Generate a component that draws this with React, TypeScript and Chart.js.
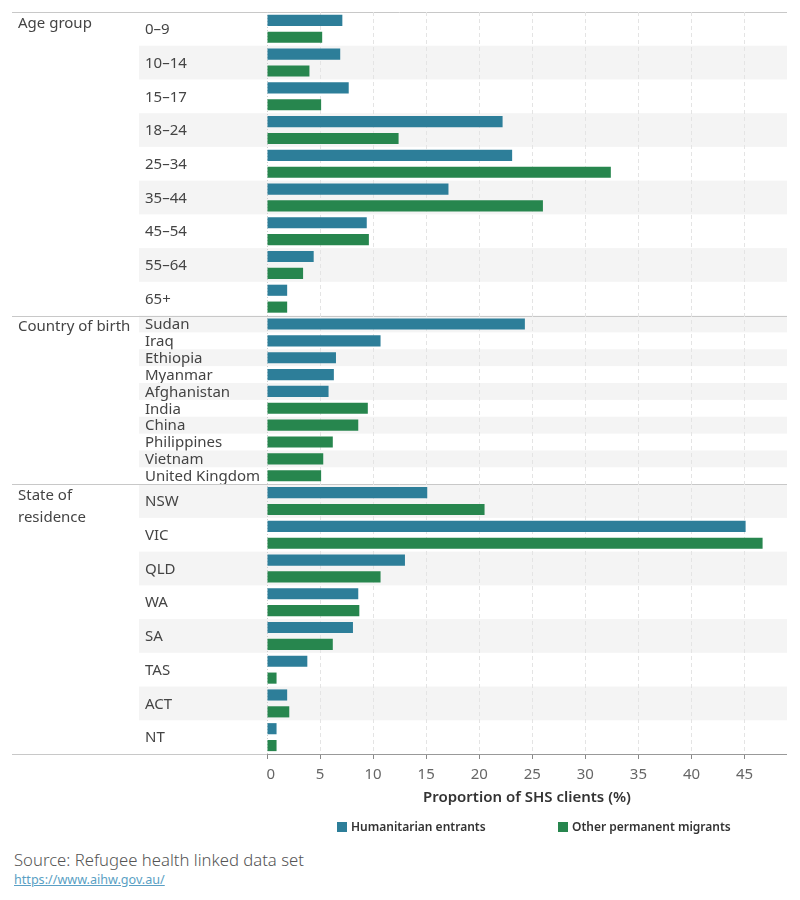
import React, { useEffect, useRef } from "react";
import { Chart, registerables } from "chart.js";

Chart.register(...registerables);

// ---- Data: proportion of SHS clients (%) ----
const ageGroups = ["0–9", "10–14", "15–17", "18–24", "25–34", "35–44", "45–54", "55–64", "65+"];
const ageHumanitarian = [7.1, 6.9, 7.7, 22.2, 23.1, 17.1, 9.4, 4.4, 1.9];
const ageOther = [5.2, 4.0, 5.1, 12.4, 32.4, 26.0, 9.6, 3.4, 1.9];

const countriesHumanitarian = ["Sudan", "Iraq", "Ethiopia", "Myanmar", "Afghanistan"];
const countryHumanitarianValues = [24.3, 10.7, 6.5, 6.3, 5.8];
const countriesOther = ["India", "China", "Philippines", "Vietnam", "United Kingdom"];
const countryOtherValues = [9.5, 8.6, 6.2, 5.3, 5.1];

const states = ["NSW", "VIC", "QLD", "WA", "SA", "TAS", "ACT", "NT"];
const stateHumanitarian = [15.1, 45.1, 13.0, 8.6, 8.1, 3.8, 1.9, 0.9];
const stateOther = [20.5, 46.7, 10.7, 8.7, 6.2, 0.9, 2.1, 0.9];

const sectionTitles = [["Age group"], ["Country of birth"], ["State of", "residence"]];
const xTicks = [0, 5, 10, 15, 20, 25, 30, 35, 40, 45];
const xMax = 49;

const seriesNames = ["Humanitarian entrants", "Other permanent migrants"];
const BLUE = "#2d7e99";
const GREEN = "#27864e";
const FONT = "'Noto Sans', sans-serif";

// ---- Build slots: each two-bar row takes two category slots, each single-bar row one ----
type Row = { label: string; slots: number[]; section: number };
const slotKeys: string[] = [];
const humanitarianData: (number | null)[] = [];
const otherData: (number | null)[] = [];
const rows: Row[] = [];

function addSlot(key: string, h: number | null, o: number | null) {
  slotKeys.push(key);
  humanitarianData.push(h);
  otherData.push(o);
  return slotKeys.length - 1;
}

ageGroups.forEach((g, i) => {
  const a = addSlot("age:" + g + ":h", ageHumanitarian[i], null);
  const b = addSlot("age:" + g + ":o", null, ageOther[i]);
  rows.push({ label: g, slots: [a, b], section: 0 });
});
countriesHumanitarian.forEach((c, i) => {
  const a = addSlot("cob:" + c, countryHumanitarianValues[i], null);
  rows.push({ label: c, slots: [a], section: 1 });
});
countriesOther.forEach((c, i) => {
  const a = addSlot("cob:" + c, null, countryOtherValues[i]);
  rows.push({ label: c, slots: [a], section: 1 });
});
states.forEach((s, i) => {
  const a = addSlot("state:" + s + ":h", stateHumanitarian[i], null);
  const b = addSlot("state:" + s + ":o", null, stateOther[i]);
  rows.push({ label: s, slots: [a, b], section: 2 });
});

// Row bands, labels, section headers, separators and legend
const tablePlugin = {
  id: "tableLayout",
  beforeDraw(chart: any) {
    const { ctx, chartArea, scales } = chart;
    const y = scales.y;
    const half = (y.getPixelForValue(1) - y.getPixelForValue(0)) / 2;
    const bandLeft = 131;
    ctx.save();
    rows.forEach((r, i) => {
      const top = y.getPixelForValue(r.slots[0]) - half;
      const bottom = y.getPixelForValue(r.slots[r.slots.length - 1]) + half;
      if (i % 2 === 1) {
        ctx.fillStyle = "#f4f4f4";
        ctx.fillRect(bandLeft, top, chartArea.right - bandLeft, bottom - top);
      }
      ctx.fillStyle = "#444";
      ctx.font = `15px ${FONT}`;
      ctx.textBaseline = "middle";
      ctx.textAlign = "left";
      ctx.fillText(r.label, 137, (top + bottom) / 2 + 1);
    });

    // section headers and separators
    const sectionTops: number[] = [];
    [0, 1, 2].forEach((s) => {
      const first = rows.find((r) => r.section === s)!;
      const top = y.getPixelForValue(first.slots[0]) - half;
      sectionTops.push(top);
      ctx.fillStyle = "#444";
      ctx.font = `15px ${FONT}`;
      ctx.textBaseline = "middle";
      sectionTitles[s].forEach((line, li) => {
        ctx.fillText(line, 10, top + 11.5 + li * 22);
      });
    });
    ctx.strokeStyle = "#c8c8c8";
    ctx.lineWidth = 1;
    [...sectionTops, chartArea.bottom].forEach((py) => {
      const yy = Math.round(py) + 0.5;
      ctx.beginPath();
      ctx.moveTo(4, yy);
      ctx.lineTo(chartArea.right, yy);
      ctx.stroke();
    });
    ctx.restore();
  },
  afterDraw(chart: any) {
    const { ctx, chartArea } = chart;
    ctx.save();
    // axis line
    ctx.strokeStyle = "#999";
    ctx.lineWidth = 1;
    const yy = Math.round(chartArea.bottom) + 0.5;
    ctx.beginPath();
    ctx.moveTo(chartArea.left, yy);
    ctx.lineTo(chartArea.right, yy);
    ctx.stroke();

    // legend
    const items = [
      { x: 329, color: BLUE, text: seriesNames[0] },
      { x: 550, color: GREEN, text: seriesNames[1] },
    ];
    ctx.font = `600 12px ${FONT}`;
    ctx.textBaseline = "middle";
    ctx.textAlign = "left";
    items.forEach((it) => {
      ctx.fillStyle = it.color;
      ctx.fillRect(it.x, 814, 10, 10);
      ctx.fillStyle = "#333";
      ctx.fillText(it.text, it.x + 14, 819.5);
    });
    ctx.restore();
  },
};

export default function App() {
  const canvasRef = useRef<HTMLCanvasElement | null>(null);

  useEffect(() => {
    if (!canvasRef.current) return;
    const chart = new Chart(canvasRef.current, {
      type: "bar",
      data: {
        labels: slotKeys,
        datasets: [
          {
            label: seriesNames[0],
            data: humanitarianData,
            backgroundColor: BLUE,
            grouped: false,
            categoryPercentage: 1,
            barPercentage: 0.66,
          } as any,
          {
            label: seriesNames[1],
            data: otherData,
            backgroundColor: GREEN,
            grouped: false,
            categoryPercentage: 1,
            barPercentage: 0.66,
          } as any,
        ],
      },
      options: {
        indexAxis: "y",
        animation: false,
        responsive: false,
        maintainAspectRatio: false,
        layout: { padding: { left: 259, right: 5, top: 4, bottom: 34 } },
        plugins: { legend: { display: false }, tooltip: { enabled: false } },
        scales: {
          y: { type: "category", display: false },
          x: {
            type: "linear",
            min: 0,
            max: xMax,
            afterFit(scale: any) {
              scale.height = 60;
            },
            afterBuildTicks(scale: any) {
              scale.ticks = xTicks.map((v) => ({ value: v }));
            },
            ticks: {
              color: "#666",
              font: { family: FONT, size: 15 },
              padding: 7,
              maxRotation: 0,
              includeBounds: false,
              callback: (v: any) => (v === 0 ? "  0" : String(v)),
            },
            grid: {
              color: (c: any) => (c.tick && c.tick.value === 0 ? "#cfcfcf" : "#e4e4e4"),
              lineWidth: 1,
              tickLength: 5,
              tickColor: "#888",
              tickBorderDash: [],
            },
            border: {
              display: false,
              dash: (c: any) => (c.tick && c.tick.value === 0 ? [1, 2] : [4, 3]),
            } as any,
            title: {
              display: true,
              text: "Proportion of SHS clients (%)",
              color: "#333",
              font: { family: FONT, size: 15, weight: "600" },
              padding: { top: 0, bottom: 7 },
            },
          },
        },
      },
      plugins: [tablePlugin],
    });
    return () => chart.destroy();
  }, []);

  return (
    <div style={{ position: "relative", width: 784, height: 892 }}>
      <canvas ref={canvasRef} width={784} height={840} style={{ display: "block" }} />
      <div
        style={{
          position: "absolute",
          left: 6,
          top: 842,
          fontFamily: FONT,
          fontSize: 16.7,
          lineHeight: "20px",
          color: "#555",
          fontWeight: 300,
        }}
      >
        Source: Refugee health linked data set
      </div>
      <a
        href="https://www.aihw.gov.au/"
        style={{
          position: "absolute",
          left: 6,
          top: 864,
          fontFamily: FONT,
          fontSize: 12.6,
          lineHeight: "16px",
          color: "#5a9fc4",
        }}
      >
        https://www.aihw.gov.au/
      </a>
    </div>
  );
}
